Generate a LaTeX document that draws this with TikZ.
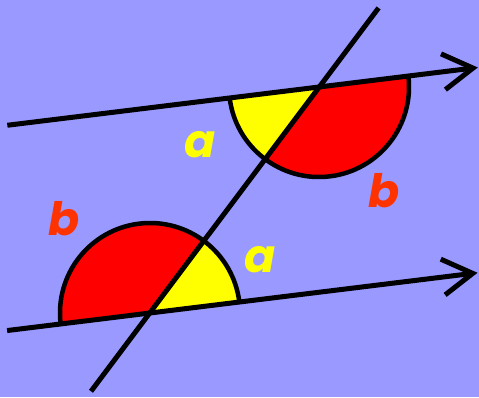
\documentclass[tikz,border=0pt]{standalone}
\usepackage{fontspec}
\newfontfamily\labelfont{Poppins}
\usepackage{xcolor}
\usetikzlibrary{arrows.meta,calc}

\definecolor{bgblue}{HTML}{9999FF}
\definecolor{angyellow}{HTML}{FFFF00}
\definecolor{angred}{HTML}{FF0000}
\definecolor{labred}{HTML}{FF3300}

\begin{document}
\begin{tikzpicture}[
  x=1pt, y=1pt,
  line/.style={line width=5pt, black},
  arr/.style={line, -{Straight Barb[length=30pt, width=36pt]}},
  arcline/.style={line width=4.5pt, black},
  ysec/.style={fill=angyellow},
  rsec/.style={fill=angred},
  alab/.style={font=\labelfont\fontsize{46}{46}\selectfont\bfseries\itshape, text=angyellow, inner sep=0pt},
  blab/.style={font=\labelfont\fontsize{46}{46}\selectfont\bfseries\itshape, text=labred, inner sep=0pt},
]

%% --- Background and bounding box ---
\fill[bgblue] (0,0) rectangle (479,397);
\useasboundingbox (0,0) rectangle (479,397);

%% --- Crossing points and line ends ---
\coordinate (T) at (319,310);
\coordinate (B) at (150,84);
\coordinate (TL) at ($(T)+(187:314)$);
\coordinate (TR) at ($(T)+(7:160)$);
\coordinate (BL) at ($(B)+(187:144)$);
\coordinate (BR) at ($(B)+(7:330)$);
\coordinate (XL) at ($(B)+(233:98)$);
\coordinate (XU) at ($(T)+(53:99)$);

%% --- Angle sectors ---
\fill[ysec] (T) -- ++(187:90) arc[start angle=187, end angle=233, radius=90] -- cycle;
\fill[rsec] (T) -- ++(233:90) arc[start angle=233, end angle=367, radius=90] -- cycle;
\fill[ysec] (B) -- ++(7:90) arc[start angle=7, end angle=53, radius=90] -- cycle;
\fill[rsec] (B) -- ++(53:90) arc[start angle=53, end angle=187, radius=90] -- cycle;
\draw[arcline] (T) ++(187:90) arc[start angle=187, end angle=367, radius=90];
\draw[arcline] (B) ++(7:90) arc[start angle=7, end angle=187, radius=90];

%% --- Parallel lines and transversal ---
\draw[arr] (TL) -- (TR);
\draw[arr] (BL) -- (BR);
\draw[line] (XL) -- (XU);

%% --- Labels ---
\node[alab] (a1) at (200,252) {a};
\node[alab] (a2) at (260,137) {a};
\node[blab] (b1) at (64,178) {b};
\node[blab] (b2) at (384,206) {b};

\end{tikzpicture}
\end{document}
